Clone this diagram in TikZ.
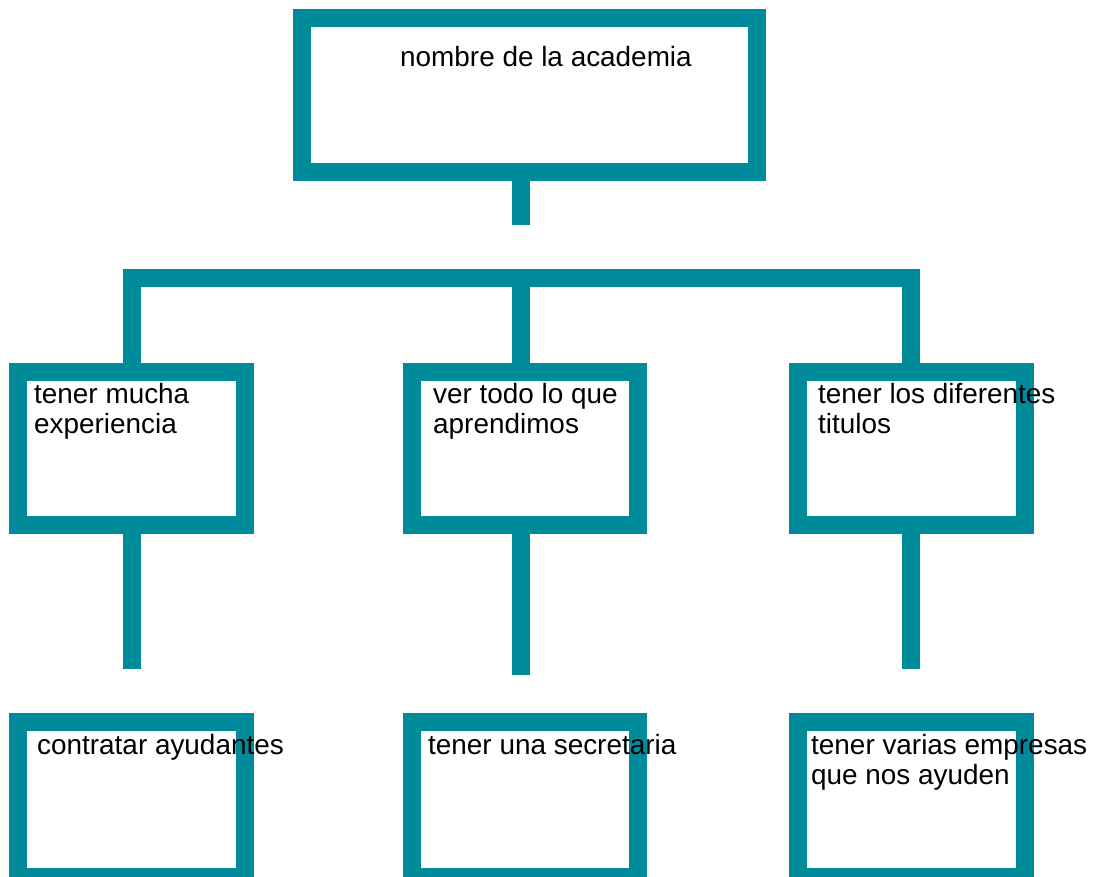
\documentclass[tikz,border=0pt]{standalone}
\usepackage{fontspec}
\setmainfont{Liberation Sans}
\usetikzlibrary{calc}
\definecolor{boxteal}{RGB}{0,139,155}
\tikzset{
    orgbox/.style={draw=boxteal,line width=18pt,rectangle,inner sep=0pt,minimum width=227pt,minimum height=153pt},
    orglink/.style={draw=boxteal,line width=18pt},
    orgtext/.style={anchor=base west,inner sep=0pt,align=left,font=\fontsize{27.9}{30}\selectfont}
}

\begin{document}
\begin{tikzpicture}[x=1pt,y=-1pt]
    \useasboundingbox (0,0) rectangle (1098,877); % Keeps the page the size of the picture...

    \node[orgbox,minimum width=455pt,minimum height=154pt] (top) at (529.5,95) {};

    \node[orgbox] (m1) at (131.5,448.5) {};
    \node[orgbox,minimum width=226pt] (m2) at (525,448.5) {};
    \node[orgbox] (m3) at (911.5,448.5) {};

    \node[orgbox,minimum height=155pt] (b1) at (131.5,799.5) {};
    \node[orgbox,minimum width=226pt,minimum height=155pt] (b2) at (525,799.5) {};
    \node[orgbox,minimum height=155pt] (b3) at (911.5,799.5) {};

    \coordinate (s0) at (521,225);
    \coordinate (hub) at (521,278);
    \coordinate (e1) at (132,669);
    \coordinate (e2) at (521,675);
    \coordinate (e3) at (911,669);

    \draw[orglink] (top.south -| s0) -- (s0);
    \draw[orglink,line join=miter] (m1.north -| e1) |- (hub) -| (m3.north -| e3);
    \draw[orglink] (hub) -- (m2.north -| hub);
    \draw[orglink] (m1.south -| e1) -- (e1);
    \draw[orglink] (m2.south -| e2) -- (e2);
    \draw[orglink] (m3.south -| e3) -- (e3);

    % base of a two-line label sits on its last line
    \node[orgtext] (ttop) at (400,67) {nombre de la academia};
    \node[orgtext] (tm1) at (34,433) {tener mucha\\experiencia};
    \node[orgtext] (tm2) at (433,433) {ver todo lo que\\aprendimos};
    \node[orgtext] (tm3) at (818,433) {tener los diferentes\\titulos};
    \node[orgtext] (tb1) at (37,754) {contratar ayudantes};
    \node[orgtext] (tb2) at (428,754) {tener una secretaria};
    \node[orgtext] (tb3) at (811,784) {tener varias empresas\\que nos ayuden};
\end{tikzpicture}
\end{document}
